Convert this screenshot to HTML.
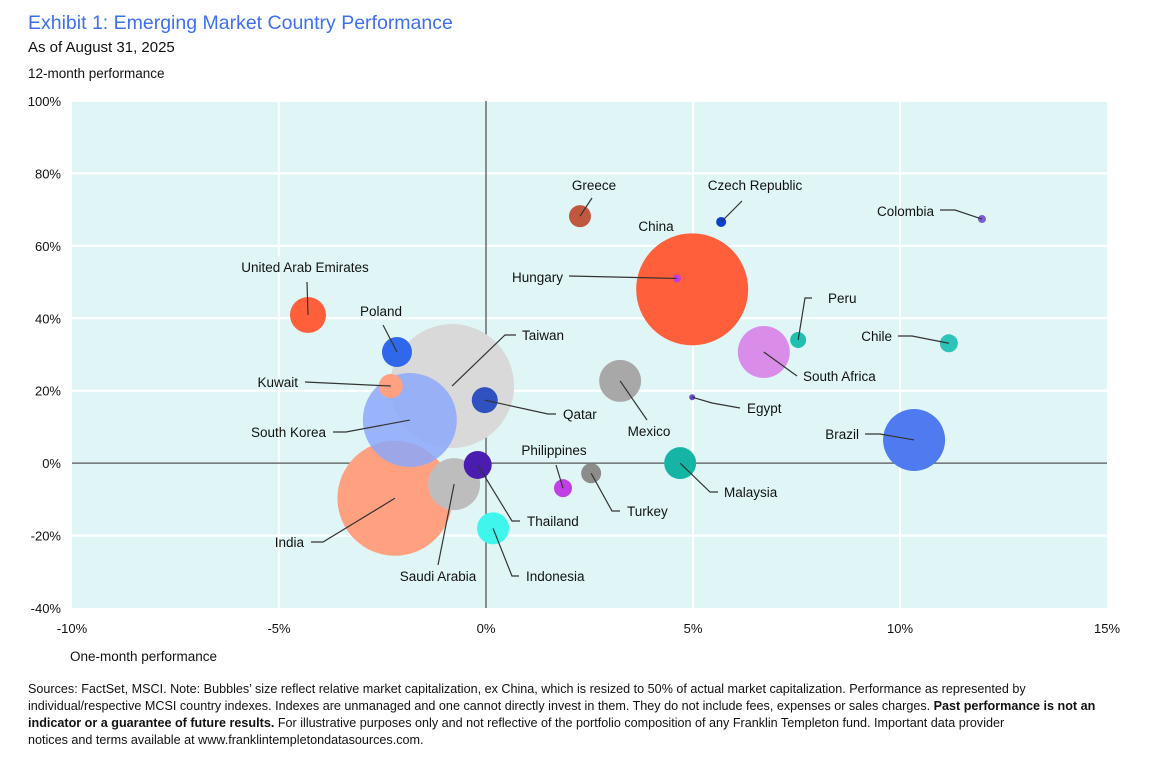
<!DOCTYPE html>
<html><head><meta charset="utf-8"><style>
body{margin:0;background:#fff;width:1155px;height:778px;overflow:hidden;font-family:"Liberation Sans",Arial,sans-serif}
svg{display:block}
text{font-family:"Liberation Sans",Arial,sans-serif}
</style></head><body>
<svg id="chart" width="1155" height="778">
<text x="28" y="29" font-size="19.5" fill="#3d6ff0">Exhibit 1: Emerging Market Country Performance</text>
<text x="28" y="52" font-size="15" fill="#111">As of August 31, 2025</text>
<text x="28" y="78" font-size="13.5" fill="#111">12-month performance</text>
<text x="70" y="661" font-size="13.5" fill="#111">One-month performance</text>
<g font-size="12.6" fill="#111">
<text x="28" y="693">Sources: FactSet, MSCI. Note: Bubbles’ size reflect relative market capitalization, ex China, which is resized to 50% of actual market capitalization. Performance as represented by</text>
<text x="28" y="710">individual/respective MCSI country indexes. Indexes are unmanaged and one cannot directly invest in them. They do not include fees, expenses or sales charges. <tspan font-weight="bold">Past performance is not an</tspan></text>
<text x="28" y="727"><tspan font-weight="bold">indicator or a guarantee of future results.</tspan> For illustrative purposes only and not reflective of the portfolio composition of any Franklin Templeton fund. Important data provider</text>
<text x="28" y="744">notices and terms available at www.franklintempletondatasources.com.</text>
</g>
<g id="plot"></g>
</svg>
<script>
const countries=["Taiwan","India","South Korea","China","Saudi Arabia","Brazil","South Africa","Mexico","UAE","Malaysia","Indonesia","Poland","Thailand","Qatar","Kuwait","Greece","Turkey","Philippines","Chile","Peru","Czech Republic","Hungary","Colombia","Egypt"];
const oneMonth=[-0.82,-2.2,-1.84,4.98,-0.77,10.34,6.71,3.24,-4.3,4.69,0.17,-2.15,-0.2,-0.03,-2.3,2.27,2.54,1.86,11.18,7.54,5.68,4.61,11.98,4.98];
const twelveMonth=[21.3,-9.7,11.9,48,-5.8,6.4,30.7,22.7,40.9,0,-18,30.7,-0.5,17.4,21.3,68.2,-2.8,-6.9,33.1,34,66.6,51,67.4,18.2];
const marketCap=[3844,3306,2209,3136,676,961,676,441,324,256,256,225,196,169,144,121,100,81,81,64,25,16,16,9];
const colors=["#d9d9d9","#ffa081","rgba(140,168,250,0.85)","#ff5f3a","#bdbdbd","#4f7bf0","#d98ce8","#a8a8a8","#ff5f3a","#14b5a5","#3ef6ec","#2f68eb","#4a1db0","#2f52c0","#ffa081","#c0583f","#8c8c8c","#c040e6","#2cc3b8","#20bfb0","#0a3fd1","#c13ce0","#7b5bd6","#6a4cc9"];
const xTicks=[-10,-5,0,5,10,15];
const yTicks=[-40,-20,0,20,40,60,80,100];
const labels=[
["Taiwan",522,340,"start",[[516,335],[505,335]]],
["India",304,547,"end",[[311,542],[323,542]]],
["South Korea",326,437,"end",[[333,432],[346,432]]],
["China",656,231,"middle",null],
["Saudi Arabia",438,581,"middle",[[438,565]]],
["Brazil",859,439,"end",[[865,434],[880,434]]],
["South Africa",803,381,"start",[[797,376]]],
["Mexico",649,436,"middle",[[647,420]]],
["United Arab Emirates",305,272,"middle",[[307,282]]],
["Malaysia",724,497,"start",[[718,492],[710,492]]],
["Indonesia",526,581,"start",[[519,576],[512,576]]],
["Poland",381,316,"middle",[[383,325]]],
["Thailand",527,526,"start",[[520,521],[512,521]]],
["Qatar",563,419,"start",[[556,414],[548,414]]],
["Kuwait",298,387,"end",[[305,382]]],
["Greece",594,190,"middle",[[592,198]]],
["Turkey",627,516,"start",[[620,511],[612,511]]],
["Philippines",554,455,"middle",[[556,465]]],
["Chile",892,341,"end",[[898,336],[912,336]]],
["Peru",828,303,"start",[[812,298],[805,298]]],
["Czech Republic",755,190,"middle",[[742,201]]],
["Hungary",563,282,"end",[[569,276]]],
["Colombia",934,216,"end",[[940,210],[955,210]]],
["Egypt",747,413,"start",[[740,408],[712,403]]]
];
const NS="http://www.w3.org/2000/svg";
const X0=72,X1=1107,Y0=101,Y1=608;
const xs=v=>X0+(v+10)/25*(X1-X0);
const ys=v=>Y1-(v+40)/140*(Y1-Y0);
const rs=c=>Math.sqrt(c);
const g=document.getElementById('plot');
function mk(t,a){const e=document.createElementNS(NS,t);for(const k in a)e.setAttribute(k,a[k]);g.appendChild(e);return e;}
let bg=mk('rect',{x:X0,y:Y0,width:X1-X0,height:Y1-Y0,fill:'#e0f6f6'});


yTicks.forEach(t=>{
 if(t!==0&&t!==-40){let l=mk('line',{x1:X0,x2:X1,y1:ys(t),y2:ys(t),stroke:'#fff','stroke-width':2});
 
 }
 let tx=mk('text',{x:X0-11,y:ys(t)+5,'font-size':13,'text-anchor':'end',fill:'#111'});tx.textContent=t+'%';
 
 
});
xTicks.forEach(t=>{
 if(t!==0&&t!==-10&&t!==15){let l=mk('line',{x1:xs(t),x2:xs(t),y1:Y0,y2:Y1,stroke:'#fff','stroke-width':2});
 
 }
 let tx=mk('text',{x:xs(t),y:Y1+25,'font-size':13,'text-anchor':'middle',fill:'#111'});tx.textContent=t+'%';
 
 
});
let ax=mk('line',{x1:X0,x2:X1,y1:ys(0),y2:ys(0),stroke:'#555','stroke-width':1.3});


let ay=mk('line',{x1:xs(0),x2:xs(0),y1:Y0,y2:Y1,stroke:'#555','stroke-width':1.3});


countries.forEach((c,i)=>{
 let b=mk('circle',{cx:xs(oneMonth[i]),cy:ys(twelveMonth[i]),r:rs(marketCap[i]),fill:colors[i]});
 
 
});
labels.forEach((L,i)=>{
 const cx=xs(oneMonth[i]),cy=ys(twelveMonth[i]);
 if(L[4]){
  const pts=[[cx,cy]].concat(L[4].slice().reverse());
  let pl=mk('polyline',{points:pts.map(p=>p.join(',')).join(' '),fill:'none',stroke:'#333','stroke-width':1.2});
  
  
 }
 let t=mk('text',{x:L[1],y:L[2],'font-size':13.5,'text-anchor':L[3],fill:'#111'});t.textContent=L[0];
 
 
});
</script>
</body></html>
